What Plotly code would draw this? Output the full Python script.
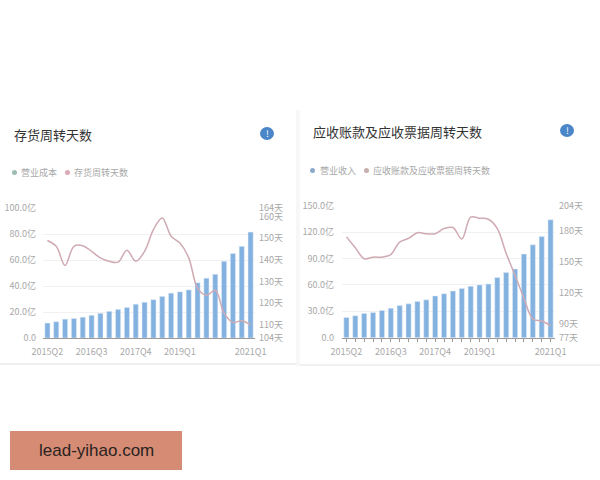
import plotly.graph_objects as go

quarters = [f"{y}Q{q}" for y in range(2015, 2022) for q in range(1, 5)][1:25]
tick_labels = ["2015Q2", "2016Q3", "2017Q4", "2019Q1", "2021Q1"]

cost = [11.5, 12.5, 14.5, 15, 16, 17.5, 19, 20.5, 22, 23.5, 26, 27.5,
        29.5, 32, 34.5, 35.5, 37, 42.5, 46, 49, 59, 65, 70.5, 81.5]
inventory_days = [149, 146.3, 137.5, 146.3, 146.6, 144, 141, 139.4, 139, 144.5, 139.4, 144,
                  154, 159.4, 151, 147.8, 141, 127, 123.7, 126, 115.5, 111.2, 112, 110]
revenue = [23, 25, 27.5, 28.5, 31, 33.5, 36.5, 38.5, 41, 43, 47.5, 50,
           53, 56, 58.5, 60, 61, 68.5, 74, 78, 95, 105.5, 115, 134]
receivable_days = [174, 163.5, 153, 154.5, 154.5, 157, 169, 172.5, 178, 177, 177, 182,
                   183, 172, 193, 192, 191, 182, 158, 137, 115, 95, 93, 88.5]

left_ticks = [0, 20, 40, 60, 80, 100]
left_labels = ["0.0", "20.0亿", "40.0亿", "60.0亿", "80.0亿", "100.0亿"]
left_day_ticks = [104, 110, 120, 130, 140, 150, 160, 164]
right_ticks = [0, 30, 60, 90, 120, 150]
right_labels = ["0.0", "30.0亿", "60.0亿", "90.0亿", "120.0亿", "150.0亿"]
right_day_ticks = [77, 90, 120, 150, 180, 204]

FONT = "Noto Sans CJK SC"
BAR = "#84b2e0"
LINE = "#cfaab2"
TXT = "#a8a8a8"
W, H = 600, 480


def px(v):
    return v / W


def py(v):
    return 1 - v / H


fig = go.Figure()
fig.add_trace(go.Bar(x=quarters, y=cost, marker_color=BAR, xaxis="x", yaxis="y", name="营业成本"))
fig.add_trace(go.Scatter(x=quarters, y=inventory_days, mode="lines", xaxis="x", yaxis="y2", name="存货周转天数",
                         line=dict(color=LINE, width=1.5, shape="spline", smoothing=1)))
fig.add_trace(go.Bar(x=quarters, y=revenue, marker_color=BAR, xaxis="x3", yaxis="y3", name="营业收入"))
fig.add_trace(go.Scatter(x=quarters, y=receivable_days, mode="lines", xaxis="x3", yaxis="y4", name="应收账款及应收票据周转天数",
                         line=dict(color=LINE, width=1.5, shape="spline", smoothing=1)))


def xaxis(x0, x1, anchor, ticks):
    d = dict(domain=[px(x0), px(x1)], anchor=anchor, type="category", categoryorder="array",
             categoryarray=quarters, tickmode="array", tickvals=tick_labels, ticktext=tick_labels,
             range=[-0.5, 23.5], showgrid=False, showline=True, linecolor="#9a9a9a", linewidth=1,
             ticks="", tickfont=dict(size=9, color=TXT, family=FONT), tickangle=0, automargin=False,
             ticklabelstandoff=5)
    if ticks:
        d["minor"] = dict(ticks="outside", ticklen=3, tickcolor="#9a9a9a", dtick=1, tick0=-0.5, showgrid=False)
    return d


def yleft(y0, y1, anchor, top, vals, labels, standoff):
    return dict(domain=[py(y0), py(y1)], anchor=anchor, range=[0, top], tickmode="array",
                tickvals=vals, ticktext=labels, showgrid=True, gridcolor="#f1f1f1", gridwidth=1,
                zeroline=False, showline=False, ticks="", tickfont=dict(size=9, color=TXT, family=FONT),
                automargin=False, ticklabelstandoff=standoff)


def yright(over, anchor, vals):
    return dict(overlaying=over, anchor=anchor, side="right", range=[vals[0], vals[-1]], tickmode="array",
                tickvals=vals, ticktext=[f"{v}天" for v in vals], showgrid=False, zeroline=False,
                showline=False, ticks="", tickfont=dict(size=9, color=TXT, family=FONT), automargin=False,
                ticklabelstandoff=3)


def note(x, y, text, size, color=TXT, xanchor="left"):
    return dict(x=px(x), y=py(y), xref="paper", yref="paper", text=text, showarrow=False, xanchor=xanchor,
                yanchor="middle", font=dict(size=size, color=color, family=FONT))


def rect(x0, y0, x1, y1, color, kind="rect"):
    return dict(type=kind, xref="paper", yref="paper", x0=px(x0), x1=px(x1), y0=py(y0), y1=py(y1),
                fillcolor=color, line_width=0, layer="below" if kind == "rect" else "above")


fig.update_layout(
    width=W, height=H, margin=dict(l=0, r=0, t=0, b=0), autosize=False, showlegend=False,
    paper_bgcolor="white", plot_bgcolor="rgba(0,0,0,0)", barmode="overlay", bargap=0.42,
    xaxis=xaxis(43, 255, "y", False),
    yaxis=yleft(338, 208, "x", 100, left_ticks, left_labels, 6),
    yaxis2=yright("y", "x", left_day_ticks),
    xaxis3=xaxis(342, 555, "y3", True),
    yaxis3=yleft(337.7, 205.7, "x3", 150, right_ticks, right_labels, 7),
    yaxis4=yright("y3", "x3", right_day_ticks),
    shapes=[
        rect(0, 363, 296, 365, "#efefef"),
        rect(300, 364, 600, 366, "#f0f0f0"),
        rect(296, 110, 300, 366, "#f7f7f7"),
        rect(10, 431, 182, 470, "#d58b74"),
        rect(260, 127, 274, 140, "#4a86c8", "circle"),
        rect(560, 124, 574, 137, "#4a86c8", "circle"),
        rect(12, 170, 17, 175, "#9dbdb4", "circle"),
        rect(65, 170, 70, 175, "#dba9b6", "circle"),
        rect(310, 168, 315, 173, "#8aa9cc", "circle"),
        rect(364, 168, 369, 173, "#c9aeb0", "circle"),
    ],
    annotations=[
        note(12, 134, "存货周转天数", 13, "#333333"),
        note(311, 131, "应收账款及应收票据周转天数", 13, "#333333"),
        note(19, 173, "营业成本", 9),
        note(72, 173, "存货周转天数", 9),
        note(318, 171, "营业收入", 9),
        note(371, 171, "应收账款及应收票据周转天数", 9),
        note(267, 133.5, "!", 9, "white", "center"),
        note(567, 130.5, "!", 9, "white", "center"),
        dict(x=px(96), y=py(450), xref="paper", yref="paper", text="lead-yihao.com", showarrow=False,
             xanchor="center", yanchor="middle",
             font=dict(size=17, color="#2a2321", family="Liberation Sans")),
    ],
)
fig.write_html("out.html", post_script="document.body.style.margin='0';",
               config=dict(displayModeBar=False))
